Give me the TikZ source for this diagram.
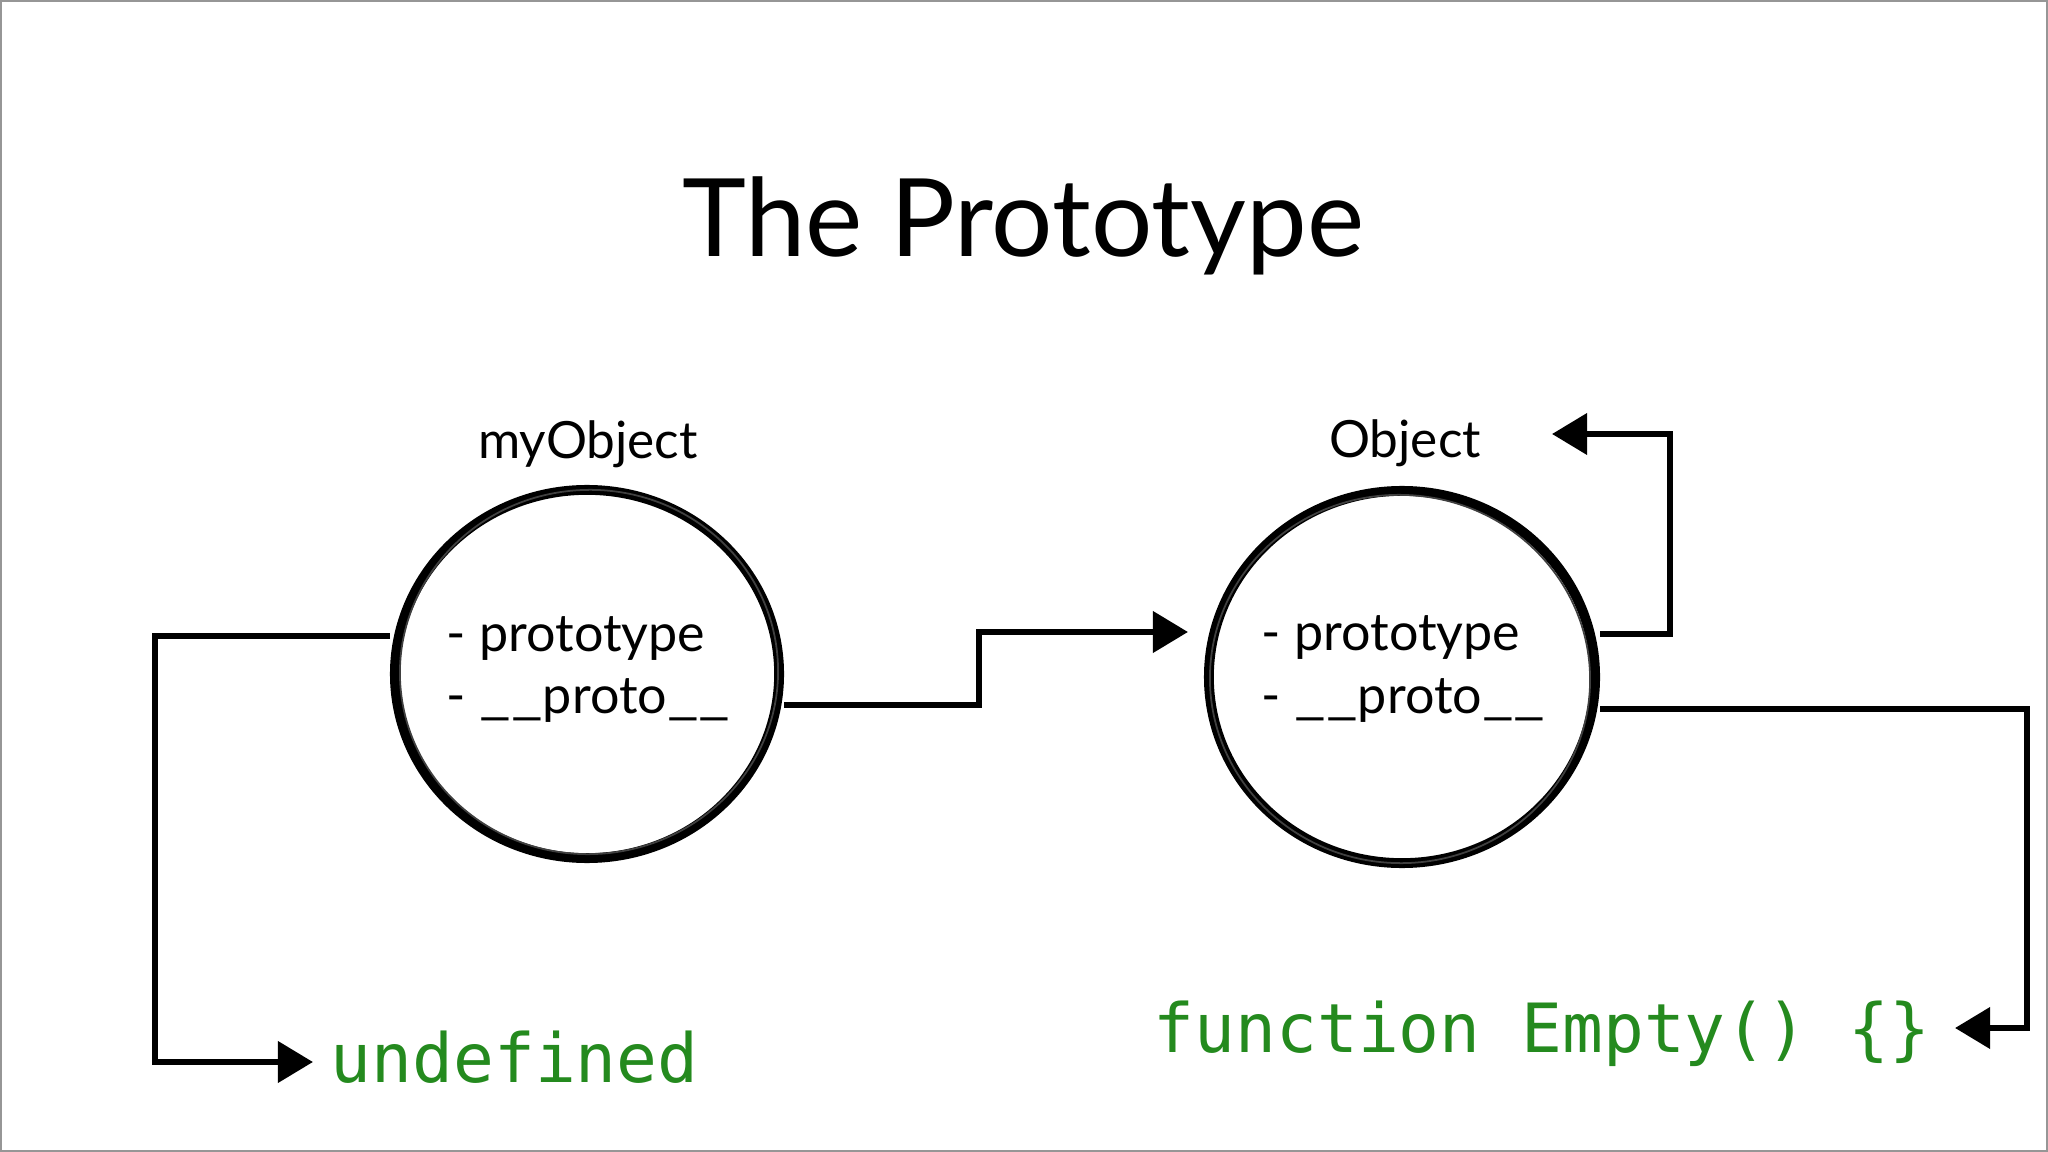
\documentclass[tikz,border=0pt]{standalone}
\usepackage{fontspec}
\setmainfont{Lato}
\setmonofont{DejaVu Sans Mono}
\usetikzlibrary{arrows.meta,shapes.geometric}
\definecolor{codegreen}{RGB}{36,138,30}
\definecolor{framegray}{RGB}{150,150,150}
\newcommand{\wideunder}{\scalebox{1.33}[1]{\_\_}}
\tikzset{
  objcircle/.style={ellipse, draw=black, line width=2.8pt, inner sep=0pt},
  sketch/.style={ellipse, draw=black!75, line width=0.5pt, inner sep=0pt},
  conn/.style={draw=black, line width=1.8pt, line join=miter,
    -{Triangle[length=10pt,width=11.5pt]}},
  field/.style={anchor=base west, inner sep=0pt, font=\fontsize{14.8}{18}\selectfont},
  objlabel/.style={anchor=base, inner sep=0pt, font=\fontsize{14.6}{17}\selectfont},
  code/.style={anchor=base west, inner sep=0pt, text=codegreen, font=\ttfamily\fontsize{19.3}{22}\selectfont},
}
\begin{document}
\begin{tikzpicture}[x=0.01cm,y=-0.01cm]
\useasboundingbox (0,0) rectangle (2048,1152);
\draw[framegray, line width=0.6pt] (1,1) rectangle (2047,1151);

% title
\node[anchor=base, inner sep=0pt, font=\fontsize{30.8}{36}\selectfont] (title) at (1023,257) {The Prototype};

% objects
\node[objcircle, minimum width=3.84cm, minimum height=3.68cm] (c1) at (587,674) {};
\node[sketch, minimum width=3.78cm, minimum height=3.64cm, rotate=4] (c1s) at (589,672) {};
\node[objcircle, minimum width=3.86cm, minimum height=3.72cm] (c2) at (1402,677) {};
\node[sketch, minimum width=3.80cm, minimum height=3.68cm, rotate=-4] (c2s) at (1400,679) {};

\node[objlabel] (l1) at (588,459) {myObject};
\node[objlabel] (l2) at (1405,458) {Object};

\node[field] (c1p) at (446,652) {- prototype};
\node[field] (c1q) at (446,713) {- \wideunder proto\wideunder};
\node[field] (c2p) at (1261,650) {- prototype};
\node[field] (c2q) at (1261,713) {- \wideunder proto\wideunder};

% targets
\node[code] (undef) at (330,1082) {undefined};
\node[code] (empty) at (1153,1052) {function Empty() \{\}};

\coordinate (t1) at (313,1062);
\coordinate (t2) at (1188,632);
\coordinate (t3) at (1552,434);
\coordinate (t4) at (1955,1028);

% connectors
\draw[conn] ([yshift=0.38cm]c1.west) -| (155,1062) -- (t1);
\draw[conn] ([yshift=-0.31cm]c1.east) -| (979,632) -- (t2);
\draw[conn] ([yshift=0.43cm]c2.east) -| (1670,434) -- (t3);
\draw[conn] ([yshift=-0.32cm]c2.east) -| (2027,1028) -- (t4);
\end{tikzpicture}
\end{document}
